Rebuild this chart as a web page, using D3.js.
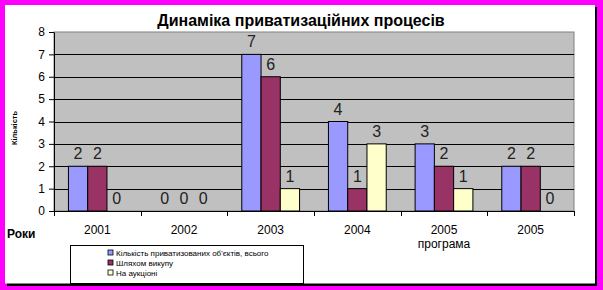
<!DOCTYPE html>
<html>
<head>
<meta charset="utf-8">
<script src="https://cdn.jsdelivr.net/npm/d3@7"></script>
<style>
  body { margin: 0; background: #ff00ff; }
  svg { display: block; font-family: Arial, "Liberation Sans", sans-serif; }
</style>
</head>
<body>
<svg id="chart"></svg>
<script>
// Chart data
const years = ['2001', '2002', '2003', '2004', '2005', '2005 '];
const yearSubLabels = ['', '', '', '', 'програма', ''];
const seriesNames = ['Кількість приватизованих об\'єктів, всього', 'Шляхом викупу', 'На аукціоні'];
const totalValues = [2, 0, 7, 4, 3, 2];
const buyoutValues = [2, 0, 6, 1, 2, 2];
const auctionValues = [0, 0, 1, 3, 1, 0];
const seriesColors = ['#9999ff', '#993366', '#ffffcc'];
const yTicks = [0, 1, 2, 3, 4, 5, 6, 7, 8];

const seriesValues = [totalValues, buyoutValues, auctionValues];

const width = 603, height = 290;
const margin = { top: 32, right: 29, bottom: 79, left: 54 };
const innerW = 520, innerH = 179;

const svg = d3.select('#chart')
  .attr('width', width)
  .attr('height', height);

// frame: magenta background, black shadow, white panel
svg.append('rect').attr('x', 0).attr('y', 0).attr('width', width).attr('height', height).attr('fill', '#ff00ff');
svg.append('rect').attr('x', 7).attr('y', 7).attr('width', 590).attr('height', 279).attr('fill', '#000');
svg.append('rect').attr('x', 5).attr('y', 5).attr('width', 590).attr('height', 278.5).attr('fill', '#fff');

// title
svg.append('text')
  .attr('x', 301)
  .attr('y', 26)
  .attr('text-anchor', 'middle')
  .style('font-size', '16px')
  .style('font-weight', 'bold')
  .text('Динаміка приватизаційних процесів');

const g = svg.append('g')
  .attr('transform', `translate(${margin.left},${margin.top})`);

const x0 = d3.scaleBand()
  .domain(years)
  .range([0, innerW])
  .padding(0);

const x1 = d3.scaleBand()
  .domain(d3.range(seriesNames.length))
  .range([0, x0.bandwidth()])
  .paddingInner(0)
  .paddingOuter(0.75);

const y = d3.scaleLinear()
  .domain([0, 8])
  .range([innerH, 0]);

// plot background
g.append('rect')
  .attr('width', innerW)
  .attr('height', innerH)
  .attr('fill', '#c0c0c0')
  .attr('stroke', '#808080')
  .attr('stroke-width', 1);

// gridlines
g.selectAll('.grid')
  .data(yTicks.filter(d => d > 0 && d < 8))
  .enter().append('line')
  .attr('class', 'grid')
  .attr('x1', 0)
  .attr('x2', innerW)
  .attr('y1', d => Math.round(y(d)) + 0.5)
  .attr('y2', d => Math.round(y(d)) + 0.5)
  .attr('stroke', '#000')
  .attr('stroke-width', 1);

// bars
const groups = g.selectAll('.group')
  .data(years)
  .enter().append('g')
  .attr('class', 'group')
  .attr('transform', d => `translate(${x0(d)},0)`);

groups.each(function(year, i) {
  const grp = d3.select(this);
  const vals = seriesValues.map((s, k) => ({ k: k, v: s[i] }));

  grp.selectAll('rect')
    .data(vals.filter(d => d.v > 0))
    .enter().append('rect')
    .attr('x', d => x1(d.k))
    .attr('y', d => y(d.v))
    .attr('width', x1.bandwidth())
    .attr('height', d => innerH - y(d.v))
    .attr('fill', d => seriesColors[d.k])
    .attr('stroke', '#000')
    .attr('stroke-width', 1);

  grp.selectAll('.val')
    .data(vals)
    .enter().append('text')
    .attr('class', 'val')
    .attr('x', d => x1(d.k) + x1.bandwidth() / 2)
    .attr('y', d => y(d.v) - 7)
    .attr('text-anchor', 'middle')
    .attr('fill', '#222')
    .style('font-size', '16px')
    .text(d => d.v);
});

// y axis
const yAxis = g.append('g')
  .call(d3.axisLeft(y).tickValues(yTicks).tickSize(5).tickSizeOuter(0).tickPadding(4));
yAxis.select('.domain').attr('stroke', '#000');
yAxis.selectAll('text').style('font-size', '12px').attr('fill', '#000');

// x axis with ticks at category boundaries
const xAxisG = g.append('g')
  .attr('transform', `translate(0,${innerH})`);
xAxisG.append('line')
  .attr('x1', 0).attr('x2', innerW)
  .attr('y1', 0.5).attr('y2', 0.5)
  .attr('stroke', '#000');
xAxisG.selectAll('.xtick')
  .data(d3.range(years.length + 1))
  .enter().append('line')
  .attr('class', 'xtick')
  .attr('x1', i => Math.round(i * x0.step()) + 0.5)
  .attr('x2', i => Math.round(i * x0.step()) + 0.5)
  .attr('y1', 0)
  .attr('y2', 5)
  .attr('stroke', '#000');
xAxisG.selectAll('.xlabel')
  .data(years)
  .enter().append('text')
  .attr('class', 'xlabel')
  .attr('x', d => x0(d) + x0.bandwidth() / 2)
  .attr('y', 23)
  .attr('text-anchor', 'middle')
  .style('font-size', '12px')
  .text(d => d.trim());
xAxisG.selectAll('.xsub')
  .data(years)
  .enter().append('text')
  .attr('class', 'xsub')
  .attr('x', d => x0(d) + x0.bandwidth() / 2)
  .attr('y', 37)
  .attr('text-anchor', 'middle')
  .style('font-size', '12px')
  .text((d, i) => yearSubLabels[i]);

// axis titles
svg.append('text')
  .attr('x', 7)
  .attr('y', 238)
  .style('font-size', '12px')
  .style('font-weight', 'bold')
  .text('Роки');

svg.append('text')
  .attr('transform', 'translate(17,145) rotate(-90)')
  .attr('textLength', 34)
  .attr('lengthAdjust', 'spacingAndGlyphs')
  .style('font-size', '7px')
  .style('font-weight', 'bold')
  .text('Кількість');

// legend
const legend = svg.append('g')
  .attr('transform', 'translate(70,245)');
legend.append('rect')
  .attr('x', 0.5).attr('y', 0.5)
  .attr('width', 233).attr('height', 38)
  .attr('fill', '#fff')
  .attr('stroke', '#000');
const items = legend.selectAll('.item')
  .data(seriesNames)
  .enter().append('g')
  .attr('class', 'item')
  .attr('transform', (d, i) => `translate(38,${5 + i * 10})`);
items.append('rect')
  .attr('width', 5).attr('height', 5)
  .attr('y', 0)
  .attr('fill', (d, i) => seriesColors[i])
  .attr('stroke', '#000')
  .attr('stroke-width', 0.8);
items.append('text')
  .attr('x', 8)
  .attr('y', 5.5)
  .style('font-size', '8px')
  .text(d => d);
</script>
</body>
</html>
